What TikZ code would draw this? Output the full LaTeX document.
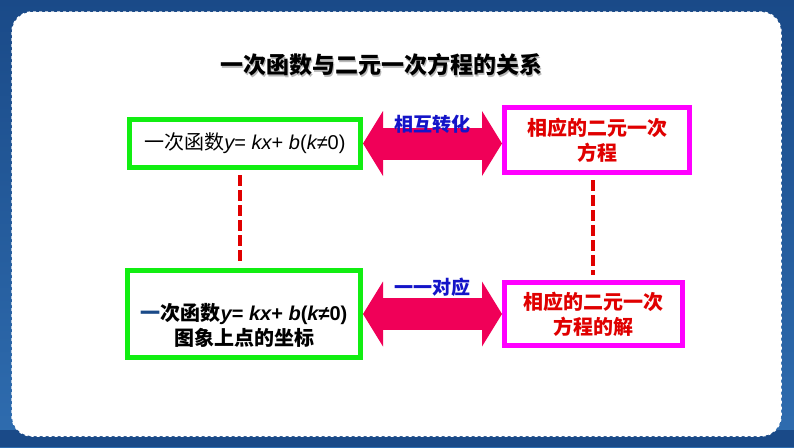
\documentclass[tikz,border=0pt]{standalone}
\usepackage{fontspec}
\setmainfont{Noto Sans CJK SC}
\newfontfamily\latinfont{Liberation Sans}
\usetikzlibrary{arrows.meta,positioning}
\definecolor{boxgreen}{HTML}{11EE11}
\definecolor{boxmagenta}{HTML}{FF00FF}
\definecolor{arrowred}{HTML}{F00058}
\definecolor{eqred}{HTML}{E00000}
\definecolor{labelblue}{HTML}{1414C8}
\definecolor{bgdark}{HTML}{1A4A88}
\definecolor{bglight}{HTML}{2F6DB0}
\newcommand{\vi}[1]{{\latinfont\itshape #1}}
\newcommand{\lfx}{\vi{y}{\latinfont= }\vi{kx}{\latinfont+ }\vi{b}{\latinfont(}\vi{k}{\latinfont≠0)}}
\tikzset{
  funcbox/.style={draw=boxgreen,line width=5pt,fill=white,inner sep=0pt},
  eqbox/.style={draw=boxmagenta,line width=5pt,fill=white,inner sep=0pt,
    text=eqred,font=\fontsize{20}{25}\selectfont\bfseries,align=center},
  bigarrow/.style={arrowred,line width=32pt,
    {Triangle[length=20pt,width=65pt,line width=0pt]}-{Triangle[length=20pt,width=65pt,line width=0pt]}},
  arrowlabel/.style={text=labelblue,font=\fontsize{19}{22}\selectfont\bfseries},
  linkline/.style={eqred,line width=3.5pt,dash pattern=on 11pt off 4pt}
}
\begin{document}
\begin{tikzpicture}[x=1pt,y=-1pt]
\useasboundingbox (0,0) rectangle (794,447);
% background and panel
\shade[top color=bgdark,bottom color=bglight] (0,0) rectangle (794,447);
\fill[bgdark] (0,430) rectangle (794,447);
\draw[white,fill=white,line width=1.5pt,dashed,rounded corners=20pt] (12,12) rectangle (781,436);
%
\node (shadow) [text=gray!55,font=\fontsize{23}{26}\selectfont\bfseries] at (382.5,66.5) {一次函数与二元一次方程的关系};
\node (title) [font=\fontsize{23}{26}\selectfont\bfseries] at (381,65) {一次函数与二元一次方程的关系};
%
\node (tl) [funcbox,minimum width=231pt,minimum height=48pt,font=\fontsize{20}{24}\selectfont] at (245,143.5) {一次函数\lfx};
\node (tr) [eqbox,minimum width=185pt,minimum height=65pt] at (597,140) {相应的二元一次\\方程};
\node (bl) [funcbox,minimum width=233pt,minimum height=87pt] at (244,314) {};
\node (bltext) [font=\fontsize{20}{25}\selectfont\bfseries,align=center] at (244,325) {{\color{bgdark}一}次函数\lfx\\图象上点的坐标};
\node (br) [eqbox,minimum width=178pt,minimum height=63pt] at (593.5,314) {相应的二元一次\\方程的解};
%
\draw[bigarrow] (tl.east) -- (tl.east -| tr.west) node[arrowlabel,midway,yshift=19pt] {相互转化};
\draw[bigarrow] (bl.east) -- (bl.east -| br.west) node[arrowlabel,midway,yshift=27pt] {一一对应};
\draw[linkline] ([xshift=-5pt,yshift=-5pt]tl.south) -- ([xshift=-4pt,yshift=5pt]bl.north);
\draw[linkline] ([xshift=-4pt,yshift=-5pt]tr.south) -- ([xshift=-4pt,yshift=5pt]tr.south |- br.north);
\end{tikzpicture}
\end{document}
